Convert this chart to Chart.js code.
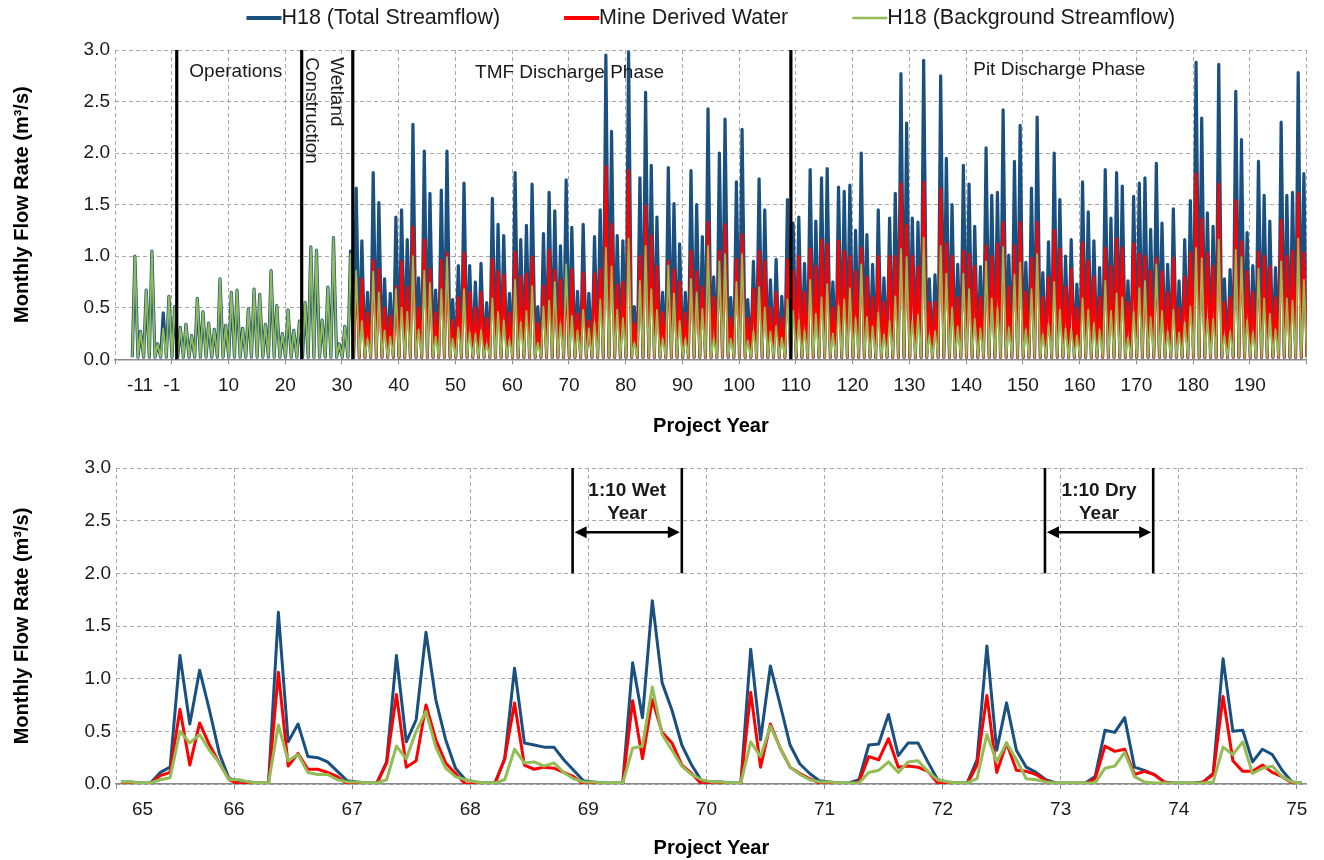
<!DOCTYPE html>
<html>
<head>
<meta charset="utf-8">
<script src="https://cdn.jsdelivr.net/npm/chart.js@4.4.1/dist/chart.umd.min.js"></script>
<style>
  html, body { margin: 0; padding: 0; background: #ffffff; }
  #wrap { position: relative; width: 1324px; height: 860px; }
  canvas { position: absolute; left: 0; }
  #topChart { top: 0; }
  #bottomChart { top: 440px; }
</style>
</head>
<body>
<div id="wrap">
  <canvas id="topChart" width="1324" height="440" style="width:1324px;height:440px"></canvas>
  <canvas id="bottomChart" width="1324" height="420" style="width:1324px;height:420px"></canvas>
</div>
<script>
// ---------------- DATA ----------------
const SERIES_LABELS = ['H18 (Total Streamflow)', 'Mine Derived Water', 'H18 (Background Streamflow)'];

// Top panel: annual peak flow (m3/s), one value per year starting at TOP_FIRST_YEAR
const TOP_FIRST_YEAR = -7;
const topTotal = [
  1.00, 0.27, 0.67, 1.05, 0.15, 0.45, 0.61,
  0.51, 0.31, 0.34, 0.23, 0.59, 0.46, 0.35, 0.29, 0.78, 0.33,
  0.65, 0.67, 0.30, 0.49, 0.68, 0.63, 0.34, 0.86, 0.52, 0.25,
  0.48, 0.28, 0.37, 0.55, 1.09, 1.06, 0.38, 0.70, 1.18, 0.15,
  0.32, 1.05, 1.66, 1.15, 0.65, 1.81, 1.52, 0.78, 0.64, 1.38,
  1.45, 1.16, 2.28, 0.79, 2.02, 1.61, 0.67, 1.64, 2.02, 0.58,
  0.91, 1.71, 0.91, 0.75, 0.93, 0.55, 1.56, 1.31, 1.20, 0.64,
  1.81, 1.16, 1.30, 1.70, 0.51, 1.22, 1.62, 1.44, 1.10, 1.74,
  1.28, 0.66, 1.31, 0.64, 1.19, 1.45, 2.95, 2.21, 1.20, 1.15,
  2.98, 0.51, 1.76, 2.59, 1.88, 1.38, 0.65, 1.86, 1.51, 1.12,
  0.65, 1.83, 1.50, 1.19, 2.43, 0.80, 2.00, 2.33, 0.60, 1.72,
  2.23, 0.58, 0.95, 1.75, 1.45, 0.77, 0.97, 0.61, 1.55, 1.32,
  1.38, 0.93, 1.84, 1.34, 1.76, 1.85, 0.75, 1.67, 1.63, 1.69,
  1.25, 2.00, 1.21, 0.92, 1.45, 0.79, 1.37, 1.61, 2.77, 2.29,
  1.37, 1.33, 2.90, 0.78, 0.82, 2.75, 1.95, 1.50, 0.92, 1.88,
  1.70, 1.29, 0.90, 2.05, 1.59, 1.62, 2.42, 1.01, 1.92, 2.27,
  0.94, 1.66, 2.35, 0.84, 1.14, 2.00, 1.55, 1.00, 1.16, 0.73,
  1.72, 1.43, 1.15, 0.89, 1.84, 1.37, 1.81, 1.68, 0.76, 1.58,
  1.71, 1.76, 1.26, 1.90, 1.32, 0.92, 1.46, 0.76, 1.16, 1.54,
  2.88, 2.34, 1.42, 1.29, 2.86, 0.78, 0.87, 2.60, 2.13, 1.23,
  0.91, 1.92, 1.59, 1.34, 0.89, 2.30, 1.59, 1.62, 2.78, 1.80
];
const TOP_MINE_FIRST_YEAR = 32;
const topMine = [
  0.80, 0.78, 0.45, 0.96, 0.87, 0.50, 0.42, 0.70,
  0.95, 0.70, 1.28, 0.50, 1.16, 0.87, 0.45, 0.96, 1.03, 0.38,
  0.60, 1.03, 0.65, 0.50, 0.65, 0.40, 0.97, 0.85, 0.82, 0.45,
  1.04, 0.80, 0.83, 0.99, 0.35, 0.71, 1.06, 0.86, 0.77, 0.80,
  0.87, 0.44, 0.84, 0.37, 0.83, 0.87, 1.87, 1.31, 0.72, 0.75,
  1.83, 0.35, 1.00, 1.49, 1.20, 0.90, 0.45, 0.95, 0.87, 0.75,
  0.45, 1.05, 0.85, 0.70, 1.33, 0.60, 1.05, 1.31, 0.40, 0.97,
  1.21, 0.40, 0.68, 1.05, 0.95, 0.50, 0.65, 0.40, 0.97, 0.85,
  1.00, 0.65, 1.07, 0.90, 1.16, 1.12, 0.50, 1.15, 1.05, 1.00,
  0.85, 1.08, 0.80, 0.60, 1.00, 0.55, 1.00, 1.00, 1.70, 1.30,
  1.00, 0.90, 1.72, 0.55, 0.55, 1.65, 1.12, 1.00, 0.60, 1.05,
  1.02, 0.90, 0.60, 1.10, 1.00, 1.12, 1.33, 0.70, 1.10, 1.33,
  0.65, 0.98, 1.33, 0.60, 0.80, 1.25, 1.07, 0.70, 0.87, 0.50,
  1.13, 0.95, 0.80, 0.60, 1.08, 0.90, 1.17, 1.08, 0.55, 1.12,
  1.02, 1.00, 0.85, 0.98, 0.85, 0.65, 0.98, 0.50, 0.80, 1.03,
  1.80, 1.36, 1.03, 0.90, 1.70, 0.55, 0.60, 1.54, 1.14, 0.85,
  0.65, 1.04, 1.00, 0.90, 0.60, 1.35, 1.00, 1.05, 1.61, 1.03
];
const topBackground = [
  1.00, 0.27, 0.67, 1.05, 0.15, 0.30, 0.61,
  0.51, 0.31, 0.34, 0.23, 0.59, 0.46, 0.35, 0.29, 0.78, 0.33,
  0.65, 0.67, 0.30, 0.49, 0.68, 0.63, 0.34, 0.86, 0.52, 0.25,
  0.48, 0.28, 0.37, 0.55, 1.09, 1.06, 0.38, 0.70, 1.18, 0.15,
  0.32, 1.02, 0.86, 0.37, 0.20, 0.85, 0.65, 0.28, 0.22, 0.68,
  0.50, 0.46, 1.00, 0.29, 0.86, 0.74, 0.22, 0.68, 0.99, 0.20,
  0.31, 0.68, 0.26, 0.25, 0.28, 0.15, 0.59, 0.46, 0.38, 0.19,
  0.77, 0.36, 0.47, 0.71, 0.16, 0.51, 0.57, 0.75, 0.34, 0.92,
  0.42, 0.28, 0.48, 0.30, 0.36, 0.58, 1.08, 0.90, 0.48, 0.40,
  1.17, 0.16, 0.76, 1.10, 0.68, 0.48, 0.20, 0.91, 0.64, 0.37,
  0.20, 0.78, 0.65, 0.49, 1.10, 0.20, 0.95, 1.02, 0.20, 0.75,
  1.02, 0.18, 0.27, 0.70, 0.50, 0.27, 0.32, 0.21, 0.58, 0.47,
  0.38, 0.28, 0.77, 0.44, 0.60, 0.73, 0.25, 0.52, 0.58, 0.69,
  0.40, 0.92, 0.41, 0.32, 0.45, 0.24, 0.37, 0.61, 1.07, 0.99,
  0.37, 0.43, 1.18, 0.23, 0.27, 1.10, 0.83, 0.50, 0.32, 0.83,
  0.68, 0.39, 0.30, 0.95, 0.59, 0.50, 1.09, 0.31, 0.82, 0.94,
  0.29, 0.68, 1.02, 0.24, 0.34, 0.75, 0.48, 0.30, 0.29, 0.23,
  0.59, 0.48, 0.35, 0.29, 0.76, 0.47, 0.64, 0.60, 0.21, 0.46,
  0.69, 0.76, 0.41, 0.92, 0.47, 0.27, 0.48, 0.26, 0.36, 0.51,
  1.08, 0.98, 0.39, 0.39, 1.16, 0.23, 0.27, 1.06, 0.99, 0.38,
  0.26, 0.88, 0.59, 0.44, 0.29, 0.95, 0.59, 0.57, 1.17, 0.77
];
const LOW_FLOW = 0.02; // winter low flow between freshets

// Top panel axis: gridline positions, tick-label positions and labels
const TOP_GRID_POS = [-10, 0, 10, 20, 30, 40, 50, 60, 70, 80, 90, 100, 110, 120, 130, 140, 150, 160, 170, 180, 190, 200];
const TOP_LABEL_POS = [-5.6, 0, 10, 20, 30, 40, 50, 60, 70, 80, 90, 100, 110, 120, 130, 140, 150, 160, 170, 180, 190];
const TOP_TICK_LABELS = ['-11', '-1', '10', '20', '30', '40', '50', '60', '70', '80', '90', '100', '110', '120', '130', '140', '150', '160', '170', '180', '190'];

// Top panel phase boundaries and labels (x in axis units, y in m3/s)
const PHASE_LINES = [0.88, 22.9, 31.9, 109.1];
const PHASE_TEXTS = [
  { text: 'Operations', x: 3.1, y: 2.79, align: 'left' },
  { text: 'TMF Discharge Phase', x: 70.1, y: 2.78, align: 'center' },
  { text: 'Pit Discharge Phase', x: 156.4, y: 2.81, align: 'center' }
];
const PHASE_VERTICAL_TEXTS = [
  { text: 'Wetland', x: 28.9, y: 2.93 },
  { text: 'Construction', x: 24.6, y: 2.93 }
];

// Bottom panel: monthly values, Project Years 65 to 75
const BOTTOM_YEAR_LABELS = ['65', '66', '67', '68', '69', '70', '71', '72', '73', '74', '75'];
const BOTTOM_LABEL_POS = [2.2, 11.5, 23.5, 35.5, 47.5, 59.5, 71.5, 83.5, 95.5, 107.5, 119.5];
const BOTTOM_GRID_POS = [-0.5, 11.5, 23.5, 35.5, 47.5, 59.5, 71.5, 83.5, 95.5, 107.5, 119.5];
const bottomTotal = [
  0.02, 0.02, 0.01, 0.01, 0.11, 0.16, 1.22, 0.57, 1.08, 0.70, 0.29, 0.05,
  0.03, 0.02, 0.01, 0.01, 1.63, 0.40, 0.57, 0.26, 0.25, 0.21, 0.12, 0.03,
  0.02, 0.01, 0.01, 0.21, 1.22, 0.40, 0.61, 1.44, 0.80, 0.42, 0.15, 0.04,
  0.02, 0.01, 0.01, 0.24, 1.10, 0.39, 0.37, 0.35, 0.35, 0.23, 0.13, 0.03,
  0.02, 0.01, 0.01, 0.01, 1.15, 0.63, 1.74, 0.96, 0.70, 0.37, 0.18, 0.03,
  0.02, 0.02, 0.01, 0.01, 1.28, 0.42, 1.12, 0.75, 0.37, 0.19, 0.10, 0.03,
  0.02, 0.01, 0.01, 0.04, 0.37, 0.38, 0.66, 0.27, 0.39, 0.39, 0.21, 0.04,
  0.02, 0.01, 0.01, 0.23, 1.31, 0.32, 0.77, 0.32, 0.16, 0.11, 0.04, 0.01,
  0.01, 0.01, 0.01, 0.07, 0.51, 0.49, 0.63, 0.16, 0.13, 0.09, 0.02, 0.01,
  0.01, 0.01, 0.02, 0.10, 1.19, 0.50, 0.51, 0.21, 0.33, 0.28, 0.13, 0.02,
  0.01
];
const bottomMine = [
  0.00, 0.00, 0.00, 0.00, 0.08, 0.11, 0.71, 0.18, 0.58, 0.37, 0.20, 0.04,
  0.00, 0.00, 0.00, 0.00, 1.06, 0.17, 0.29, 0.14, 0.14, 0.11, 0.07, 0.00,
  0.00, 0.00, 0.00, 0.20, 0.85, 0.16, 0.22, 0.75, 0.42, 0.20, 0.10, 0.00,
  0.00, 0.00, 0.00, 0.24, 0.77, 0.18, 0.14, 0.16, 0.15, 0.11, 0.07, 0.00,
  0.00, 0.00, 0.00, 0.00, 0.79, 0.24, 0.80, 0.49, 0.39, 0.18, 0.10, 0.00,
  0.00, 0.00, 0.00, 0.00, 0.87, 0.16, 0.57, 0.34, 0.16, 0.10, 0.05, 0.01,
  0.00, 0.00, 0.00, 0.02, 0.26, 0.23, 0.43, 0.16, 0.17, 0.16, 0.12, 0.01,
  0.00, 0.00, 0.00, 0.18, 0.84, 0.11, 0.39, 0.13, 0.12, 0.09, 0.03, 0.00,
  0.00, 0.00, 0.00, 0.05, 0.36, 0.31, 0.33, 0.09, 0.12, 0.09, 0.02, 0.00,
  0.00, 0.00, 0.02, 0.09, 0.83, 0.22, 0.12, 0.12, 0.18, 0.11, 0.07, 0.01,
  0.00
];
const bottomBackground = [
  0.02, 0.02, 0.01, 0.01, 0.04, 0.06, 0.50, 0.39, 0.47, 0.32, 0.20, 0.04,
  0.04, 0.02, 0.01, 0.01, 0.56, 0.22, 0.28, 0.11, 0.09, 0.09, 0.04, 0.02,
  0.02, 0.01, 0.01, 0.04, 0.36, 0.24, 0.50, 0.69, 0.35, 0.15, 0.07, 0.04,
  0.02, 0.01, 0.01, 0.04, 0.33, 0.20, 0.21, 0.17, 0.20, 0.11, 0.05, 0.02,
  0.02, 0.01, 0.01, 0.01, 0.34, 0.36, 0.92, 0.47, 0.32, 0.17, 0.09, 0.04,
  0.02, 0.02, 0.01, 0.01, 0.40, 0.26, 0.55, 0.34, 0.16, 0.09, 0.04, 0.02,
  0.02, 0.01, 0.01, 0.01, 0.11, 0.13, 0.21, 0.11, 0.21, 0.22, 0.12, 0.04,
  0.02, 0.01, 0.01, 0.05, 0.47, 0.21, 0.39, 0.23, 0.05, 0.04, 0.02, 0.01,
  0.01, 0.01, 0.01, 0.01, 0.15, 0.17, 0.30, 0.07, 0.02, 0.01, 0.01, 0.01,
  0.01, 0.01, 0.01, 0.02, 0.35, 0.28, 0.40, 0.10, 0.15, 0.17, 0.07, 0.02,
  0.01
];
// Bottom panel brackets (x in month index from start of year 65)
const BRACKETS = [
  { from: 45.9, to: 57.0, lines: ['1:10 Wet', 'Year'] },
  { from: 93.9, to: 104.9, lines: ['1:10 Dry', 'Year'] }
];

// ---------------- STYLE ----------------
const FONT = '"Liberation Sans", Arial, sans-serif';
const C_TOTAL = '#19507f';
const C_MINE = '#ff0000';
const C_BG = '#92bd55';
const GRID = '#a8a8a8';
const AXIS = '#8a8a8a';
const TXT = '#1a1a1a';
const CLEAR = 'rgba(0,0,0,0)';

// ---------------- BUILD ----------------
function yearlySpikes(values, firstYear) {
  const pts = [];
  values.forEach((v, i) => {
    const n = firstYear + i;
    pts.push({ x: n + 0.05, y: LOW_FLOW });
    pts.push({ x: n + 0.5, y: v });
  });
  pts.push({ x: firstYear + values.length + 0.05, y: LOW_FLOW });
  return pts;
}
function monthly(values) {
  return values.map((v, k) => ({ x: k, y: v }));
}
// merge gridline ticks and label ticks into one tick list
function xAxisTicks(gridPos, labelPos, labels) {
  const vals = Array.from(new Set(gridPos.concat(labelPos))).sort((a, b) => a - b);
  return {
    build: s => { s.ticks = vals.map(v => ({ value: v })); },
    label: v => { const i = labelPos.indexOf(v); return i >= 0 ? labels[i] : ''; },
    gridColor: c => (c.tick && gridPos.indexOf(c.tick.value) >= 0) ? GRID : CLEAR,
    tickColor: c => (c.tick && gridPos.indexOf(c.tick.value) >= 0) ? AXIS : CLEAR
  };
}

const legendPlugin = {
  id: 'customLegend',
  afterDraw(chart) {
    const ctx = chart.ctx;
    const ca = chart.chartArea;
    ctx.save();
    ctx.font = '21.5px ' + FONT;
    const LINE = 35, GAP = 64;
    const items = chart.data.datasets.map(d => ({ label: d.label, color: d.borderColor, w: d.legendWidth }));
    const widths = items.map(it => LINE + ctx.measureText(it.label).width);
    const total = widths.reduce((a, b) => a + b, 0) + GAP * (items.length - 1);
    let x = (ca.left + ca.right) / 2 - total / 2;
    const y = 18;
    items.forEach((it, i) => {
      ctx.strokeStyle = it.color;
      ctx.lineWidth = it.w;
      ctx.beginPath();
      ctx.moveTo(x, y);
      ctx.lineTo(x + LINE, y);
      ctx.stroke();
      ctx.fillStyle = TXT;
      ctx.textAlign = 'left';
      ctx.textBaseline = 'middle';
      ctx.fillText(it.label, x + LINE, y);
      x += widths[i] + GAP;
    });
    ctx.restore();
  }
};

const phasePlugin = {
  id: 'phases',
  afterDatasetsDraw(chart) {
    const { ctx, scales: { x, y } } = chart;
    ctx.save();
    ctx.strokeStyle = '#000';
    ctx.lineWidth = 3.2;
    PHASE_LINES.forEach(v => {
      const px = x.getPixelForValue(v);
      ctx.beginPath();
      ctx.moveTo(px, y.getPixelForValue(3));
      ctx.lineTo(px, y.getPixelForValue(0));
      ctx.stroke();
    });
    ctx.fillStyle = TXT;
    ctx.font = '19px ' + FONT;
    ctx.textBaseline = 'middle';
    PHASE_TEXTS.forEach(t => {
      ctx.textAlign = t.align;
      ctx.fillText(t.text, x.getPixelForValue(t.x), y.getPixelForValue(t.y));
    });
    PHASE_VERTICAL_TEXTS.forEach(t => {
      ctx.save();
      ctx.translate(x.getPixelForValue(t.x), y.getPixelForValue(t.y));
      ctx.rotate(Math.PI / 2);
      ctx.textAlign = 'left';
      ctx.textBaseline = 'middle';
      ctx.fillText(t.text, 0, 0);
      ctx.restore();
    });
    ctx.restore();
  }
};

const bracketPlugin = {
  id: 'brackets',
  afterDatasetsDraw(chart) {
    const { ctx, scales: { x, y } } = chart;
    ctx.save();
    BRACKETS.forEach(b => {
      const x1 = x.getPixelForValue(b.from), x2 = x.getPixelForValue(b.to);
      const yTop = y.getPixelForValue(3.0), yBot = y.getPixelForValue(2.0);
      const yArr = y.getPixelForValue(2.39);
      ctx.strokeStyle = '#000';
      ctx.fillStyle = '#000';
      ctx.lineWidth = 2.6;
      [x1, x2].forEach(px => {
        ctx.beginPath(); ctx.moveTo(px, yTop); ctx.lineTo(px, yBot); ctx.stroke();
      });
      const ah = 12, aw = 6;
      ctx.beginPath(); ctx.moveTo(x1 + ah, yArr); ctx.lineTo(x2 - ah, yArr); ctx.stroke();
      ctx.beginPath(); ctx.moveTo(x1 + 2, yArr); ctx.lineTo(x1 + 2 + ah, yArr - aw); ctx.lineTo(x1 + 2 + ah, yArr + aw); ctx.closePath(); ctx.fill();
      ctx.beginPath(); ctx.moveTo(x2 - 2, yArr); ctx.lineTo(x2 - 2 - ah, yArr - aw); ctx.lineTo(x2 - 2 - ah, yArr + aw); ctx.closePath(); ctx.fill();
      ctx.font = 'bold 19px ' + FONT;
      ctx.textAlign = 'center';
      ctx.textBaseline = 'middle';
      ctx.fillStyle = TXT;
      const cx = (x1 + x2) / 2;
      ctx.fillText(b.lines[0], cx, y.getPixelForValue(2.78));
      ctx.fillText(b.lines[1], cx, y.getPixelForValue(2.57));
    });
    ctx.restore();
  }
};

function yAxis(width) {
  return {
    min: 0, max: 3,
    afterFit: s => { s.width = width; },
    ticks: { stepSize: 0.5, padding: 5, color: TXT, font: { size: 19, family: FONT }, callback: v => Number(v).toFixed(1) },
    grid: { color: GRID, lineWidth: 1, drawTicks: false },
    border: { display: false, dash: [4, 3] },
    title: { display: true, text: 'Monthly Flow Rate (m³/s)', color: '#000', font: { size: 20, weight: 'bold', family: FONT }, padding: { top: 10, bottom: 0 } }
  };
}

Chart.defaults.font.family = FONT;

const topTicks = xAxisTicks(TOP_GRID_POS, TOP_LABEL_POS, TOP_TICK_LABELS);
new Chart(document.getElementById('topChart'), {
  type: 'line',
  data: {
    datasets: [
      { label: SERIES_LABELS[0], data: yearlySpikes(topTotal, TOP_FIRST_YEAR), borderColor: C_TOTAL, backgroundColor: C_TOTAL, borderWidth: 3.2, legendWidth: 4, order: 3 },
      { label: SERIES_LABELS[1], data: yearlySpikes(topMine, TOP_MINE_FIRST_YEAR), borderColor: C_MINE, backgroundColor: C_MINE, borderWidth: 2.6, legendWidth: 4, order: 2 },
      { label: SERIES_LABELS[2], data: yearlySpikes(topBackground, TOP_FIRST_YEAR), borderColor: C_BG, backgroundColor: C_BG, borderWidth: 1.8, legendWidth: 2.5, order: 1 }
    ]
  },
  options: {
    responsive: false,
    animation: false,
    parsing: false,
    normalized: true,
    elements: { point: { radius: 0 }, line: { tension: 0, borderJoinStyle: 'round' } },
    layout: { padding: { top: 50, right: 17.3, left: 0, bottom: 0 } },
    plugins: { legend: { display: false }, tooltip: { enabled: false } },
    scales: {
      x: {
        type: 'linear', min: -10, max: 200,
        afterBuildTicks: topTicks.build,
        afterFit: s => { s.height = 80.7; },
        ticks: { autoSkip: false, maxRotation: 0, padding: 10, color: TXT, font: { size: 19, family: FONT }, callback: topTicks.label },
        grid: { color: topTicks.gridColor, lineWidth: 1, drawTicks: true, tickLength: 5, tickColor: topTicks.tickColor },
        border: { display: true, color: AXIS, width: 1.5, dash: [4, 3] },
        title: { display: true, text: 'Project Year', color: '#000', font: { size: 20, weight: 'bold', family: FONT }, padding: { top: 0, bottom: 2 } }
      },
      y: yAxis(115)
    }
  },
  plugins: [phasePlugin, legendPlugin]
});

const bottomTicks = xAxisTicks(BOTTOM_GRID_POS, BOTTOM_LABEL_POS, BOTTOM_YEAR_LABELS);
new Chart(document.getElementById('bottomChart'), {
  type: 'line',
  data: {
    datasets: [
      { label: SERIES_LABELS[0], data: monthly(bottomTotal), borderColor: C_TOTAL, borderWidth: 3, order: 3 },
      { label: SERIES_LABELS[1], data: monthly(bottomMine), borderColor: C_MINE, borderWidth: 3, order: 2 },
      { label: SERIES_LABELS[2], data: monthly(bottomBackground), borderColor: C_BG, borderWidth: 3, order: 1 }
    ]
  },
  options: {
    responsive: false,
    animation: false,
    parsing: false,
    normalized: true,
    elements: { point: { radius: 0 }, line: { tension: 0, borderJoinStyle: 'round' } },
    layout: { padding: { top: 28, right: 17.3, left: 0, bottom: 0 } },
    plugins: { legend: { display: false }, tooltip: { enabled: false } },
    scales: {
      x: {
        type: 'linear', min: -0.5, max: 120.5,
        afterBuildTicks: bottomTicks.build,
        afterFit: s => { s.height = 76; },
        ticks: { autoSkip: false, maxRotation: 0, padding: 9, color: TXT, font: { size: 19, family: FONT }, callback: bottomTicks.label },
        grid: { color: bottomTicks.gridColor, lineWidth: 1, drawTicks: true, tickLength: 5, tickColor: bottomTicks.tickColor },
        border: { display: true, color: AXIS, width: 1.5, dash: [4, 3] },
        title: { display: true, text: 'Project Year', color: '#000', font: { size: 20, weight: 'bold', family: FONT }, padding: { top: 0, bottom: 0 } }
      },
      y: yAxis(116)
    }
  },
  plugins: [bracketPlugin]
});
</script>
</body>
</html>
